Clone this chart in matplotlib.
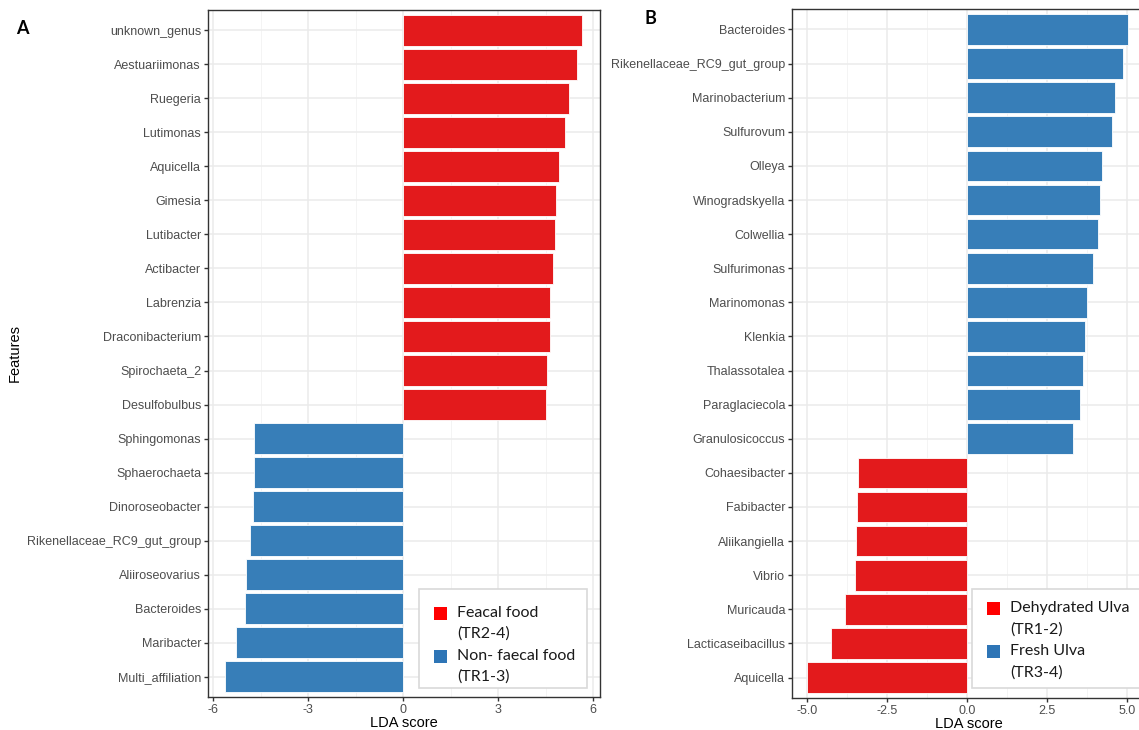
import matplotlib.pyplot as plt
import numpy as np
from matplotlib.patches import Rectangle

# panel A data (top to bottom)
features_a = ["unknown_genus", "Aestuariimonas", "Ruegeria", "Lutimonas", "Aquicella",
              "Gimesia", "Lutibacter", "Actibacter", "Labrenzia", "Draconibacterium",
              "Spirochaeta_2", "Desulfobulbus", "Sphingomonas", "Sphaerochaeta",
              "Dinoroseobacter", "Rikenellaceae_RC9_gut_group", "Aliiroseovarius",
              "Bacteroides", "Maribacter", "Multi_affiliation"]
lda_a = [5.65, 5.5, 5.25, 5.1, 4.91, 4.83, 4.8, 4.74, 4.65, 4.65, 4.55, 4.52,
         -4.70, -4.70, -4.74, -4.83, -4.97, -4.98, -5.29, -5.61]
legend_a = [("Feacal food", "(TR2-4)"), ("Non- faecal food", "(TR1-3)")]

# panel B data (top to bottom)
features_b = ["Bacteroides", "Rikenellaceae_RC9_gut_group", "Marinobacterium", "Sulfurovum",
              "Olleya", "Winogradskyella", "Colwellia", "Sulfurimonas", "Marinomonas",
              "Klenkia", "Thalassotalea", "Paraglaciecola", "Granulosicoccus",
              "Cohaesibacter", "Fabibacter", "Aliikangiella", "Vibrio", "Muricauda",
              "Lacticaseibacillus", "Aquicella"]
lda_b = [5.03, 4.86, 4.61, 4.52, 4.2, 4.14, 4.08, 3.92, 3.74, 3.67, 3.61, 3.52, 3.3,
         -3.41, -3.44, -3.47, -3.5, -3.8, -4.24, -4.99]
legend_b = [("Dehydrated Ulva", "(TR1-2)"), ("Fresh Ulva", "(TR3-4)")]

RED = "#E31A1C"
BLUE = "#377EB8"
W, H = 1139, 730

plt.rcParams['font.family'] = ['Liberation Sans', 'DejaVu Sans']
fig = plt.figure(figsize=(W / 100, H / 100), dpi=100)


def fx(px):
    return px / W


def fy(py):
    return 1 - py / H


def draw_panel(ax, feats, vals, pos_color, neg_color, xlim, ticks, minor, ticklabels):
    n = len(feats)
    y = np.arange(n)[::-1]
    colors = [pos_color if v > 0 else neg_color for v in vals]
    ax.barh(y, vals, height=0.9, color=colors, edgecolor="white", linewidth=0.6, zorder=3)
    ax.set_xlim(*xlim)
    ax.set_ylim(-0.6, n - 0.4)
    ax.set_yticks(y)
    ax.set_yticklabels(feats, fontsize=9, color="#4D4D4D")
    ax.set_xticks(ticks)
    ax.set_xticklabels(ticklabels, fontsize=9, color="#4D4D4D")
    ax.set_xticks(minor, minor=True)
    ax.grid(True, which="major", color="#EBEBEB", linewidth=1.1, zorder=0)
    ax.grid(True, which="minor", axis="x", color="#F2F2F2", linewidth=0.6, zorder=0)
    ax.tick_params(axis="both", which="major", length=3, width=1, color="#333333", pad=2)
    ax.tick_params(axis="x", which="minor", length=0)
    for s in ax.spines.values():
        s.set_color("#333333")
        s.set_linewidth(1.0)
    ax.set_axisbelow(True)
    ax.set_xlabel("LDA score", fontsize=10.5, labelpad=0)


def draw_legend(x0, x1, y0, y1, sq_x, txt_x, rows, entries):
    # box, then a coloured square and two text lines per entry
    fig.patches.append(Rectangle((fx(x0), fy(y1)), fx(x1 - x0), (y1 - y0) / H,
                                 transform=fig.transFigure, facecolor="white",
                                 edgecolor="#D9D9D9", linewidth=1.2, zorder=5))
    for (line1, line2), (ya, yb), col in zip(entries, rows, ["#FF0000", "#2E75B6"]):
        fig.patches.append(Rectangle((fx(sq_x), fy(ya + 6.5)), fx(13), 13 / H,
                                     transform=fig.transFigure, facecolor=col,
                                     edgecolor="none", zorder=6))
        fig.text(fx(txt_x), fy(ya), line1, fontsize=11.5, family="Lato",
                 va="center", ha="left", color="#1A1A1A", zorder=6)
        fig.text(fx(txt_x), fy(yb), line2, fontsize=11.5, family="Lato",
                 va="center", ha="left", color="#1A1A1A", zorder=6)


def axes_px(x0, x1, y0, y1):
    return fig.add_axes([x0 / W, 1 - y1 / H, (x1 - x0) / W, (y1 - y0) / H])


# panel A
ax1 = axes_px(208, 600, 10, 697)
draw_panel(ax1, features_a, lda_a, RED, BLUE, (-6.16, 6.22),
           [-6, -3, 0, 3, 6], [-4.5, -1.5, 1.5, 4.5], ["-6", "-3", "0", "3", "6"])
ax1.set_ylabel("Features", fontsize=10.5)
ax1.yaxis.set_label_coords(-0.475, 0.5)
draw_legend(419, 587, 589, 688, 434, 457, [(613, 634), (656, 677)], legend_a)

# panel B
ax2 = axes_px(792, 1145, 9, 698)
draw_panel(ax2, features_b, lda_b, BLUE, RED, (-5.46, 5.55),
           [-5, -2.5, 0, 2.5, 5], [-3.75, -1.25, 1.25, 3.75],
           ["-5.0", "-2.5", "0.0", "2.5", "5.0"])
draw_legend(972, 1145, 589, 688, 987, 1010, [(608, 630), (651, 673)], legend_b)

fig.text(fx(16), fy(28), "A", fontsize=13, fontweight="bold", family="Lato", va="center")
fig.text(fx(645), fy(18), "B", fontsize=13, fontweight="bold", family="Lato", va="center")

fig.savefig("out.png", dpi=100)
